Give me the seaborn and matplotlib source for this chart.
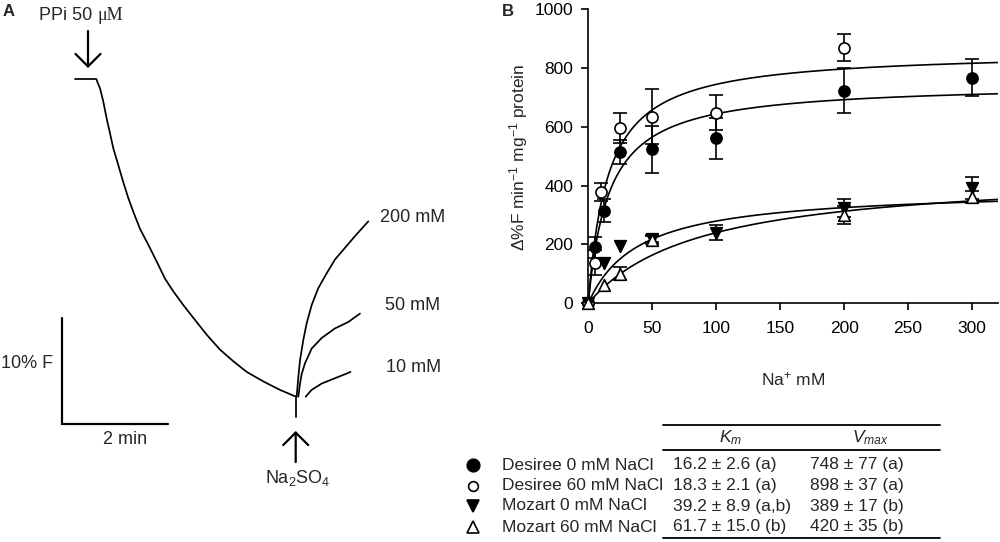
import numpy as np
import pandas as pd
import matplotlib
matplotlib.use('Agg')
import matplotlib.pyplot as plt
from matplotlib.lines import Line2D
import seaborn as sns

# ---------------- Panel A: fluorescence trace (time in s, F in %) ----------------
flat_t = [-24.3, 0.0]
flat_f = [100.0, 100.0]
decay_t = [0.0, 1.2, 4.0, 7.7, 11.5, 15.3, 19.0, 24.7, 30.3, 36.0, 41.7, 49.2, 58.6,
           68.2, 77.5, 86.9, 98.3, 109.6, 124.8, 139.8, 154.9, 170.0, 188.8, 207.7, 224.7]
decay_f = [100.0, 99.7, 99.15, 97.9, 96.3, 94.9, 93.5, 91.9, 90.3, 88.8, 87.5, 85.9, 84.4,
           82.8, 81.2, 80.0, 78.7, 77.5, 75.9, 74.5, 73.4, 72.4, 71.5, 70.7, 70.1]
spike_t = [225.5, 225.5]
spike_f = [70.1, 68.1]
rec200_t = [226.6, 228.5, 230.4, 234.1, 238.0, 243.6, 251.1, 260.6, 270.0, 281.3, 292.6, 307.7]
rec200_f = [70.06, 71.9, 73.5, 75.4, 77.0, 78.7, 80.3, 81.7, 83.0, 84.1, 85.2, 86.6]
rec50_t = [228.5, 230.4, 232.3, 236.0, 243.6, 255.0, 270.0, 285.0, 298.3]
rec50_f = [70.06, 71.3, 72.2, 73.2, 74.6, 75.6, 76.5, 77.1, 77.9]
rec10_t = [236.8, 243.6, 255.0, 270.0, 285.0, 287.5]
rec10_f = [70.06, 70.7, 71.3, 71.8, 72.3, 72.4]
trace_labels = ["200 mM", "50 mM", "10 mM"]

# ---------------- Panel B: kinetics ----------------
d0_x = [0, 5, 12.5, 25, 50, 100, 200, 300]
d0_y = [0, 190, 315, 515, 523, 560, 723, 766]
d0_e = [0, 35, 40, 40, 80, 69, 75, 63]
d60_x = [0, 5, 10, 25, 50, 100, 200]
d60_y = [0, 138, 379, 597, 634, 648, 869]
d60_e = [0, 42, 30, 51, 94, 60, 47]
m0_x = [0, 12.5, 25, 50, 100, 200, 300]
m0_y = [0, 136, 195, 220, 240, 323, 391]
m0_e = [0, 0, 0, 12, 25, 30, 37]
m60_x = [0, 12.5, 25, 50, 200, 300]
m60_y = [0, 62, 100, 215, 300, 362]
m60_e = [0, 0, 22, 15, 30, 20]
fit_vmax = [748, 857, 389, 449]
fit_km = [16.2, 15.2, 39.2, 87.0]

legend_labels = ["Desiree 0 mM NaCl", "Desiree 60 mM NaCl", "Mozart 0 mM NaCl", "Mozart 60 mM NaCl"]
km_text = ["16.2 \u00b1 2.6 (a)", "18.3 \u00b1 2.1 (a)", "39.2 \u00b1 8.9 (a,b)", "61.7 \u00b1 15.0 (b)"]
vmax_text = ["748 \u00b1 77 (a)", "898 \u00b1 37 (a)", "389 \u00b1 17 (b)", "420 \u00b1 35 (b)"]

sns.set_theme(style='ticks')
plt.rcParams['font.family'] = ['Liberation Sans', 'DejaVu Sans']
plt.rcParams['mathtext.fontset'] = 'custom'
plt.rcParams['mathtext.rm'] = 'Liberation Sans'
plt.rcParams['mathtext.it'] = 'Liberation Sans:italic'
plt.rcParams['mathtext.bf'] = 'Liberation Sans:bold'

W, H = 1000, 542
fig = plt.figure(figsize=(W / 100, H / 100), dpi=100)
fig.patch.set_facecolor('white')

# ---- Panel A axes: left half, data in seconds / %F ----
pxs = 0.8833   # px per second
pyf = 10.6     # px per %F
x0px, y0px = 96.5, 79.3
axa = fig.add_axes([0, 0, 0.5, 1])
axa.set_xlim((0 - x0px) / pxs, (500 - x0px) / pxs)
axa.set_ylim(100 - (H - y0px) / pyf, 100 + y0px / pyf)
axa.axis('off')

lw_tr = 1.25
for tt, ff in [(flat_t, flat_f), (decay_t, decay_f), (spike_t, spike_f),
               (rec200_t, rec200_f), (rec50_t, rec50_f), (rec10_t, rec10_f)]:
    df = pd.DataFrame({'t': tt, 'f': ff})
    sns.lineplot(data=df, x='t', y='f', ax=axa, color='black', lw=lw_tr,
                 sort=False, estimator=None)
# scale bars
sb_t0, sb_f0 = -39.0, 67.5
axa.plot([sb_t0, sb_t0, sb_t0 + 120], [sb_f0 + 10, sb_f0, sb_f0], color='black', lw=1.6,
         solid_joinstyle='miter')
axa.set_xlabel('')
axa.set_ylabel('')

# ---- Overlay in pixel coordinates for text ----
axo = fig.add_axes([0, 0, 1, 1], zorder=5)
axo.set_xlim(0, W)
axo.set_ylim(H, 0)
axo.axis('off')

fsA = 13
axo.text(9, 11, "A", fontsize=12, fontweight='bold', ha='center', va='center')
axo.text(508, 12, "B", fontsize=12, fontweight='bold', ha='center', va='center')
t1 = axo.text(39, 15, "PPi 50", fontsize=fsA, ha='left', va='center')
fig.canvas.draw()
bb = t1.get_window_extent()
axo.text(bb.x1 + 5, H - 15, "\u03bcM", fontsize=fsA, ha='left', va='center',
         family='Liberation Serif', transform=None)
arrow_kw = dict(arrowstyle='->,head_length=0.45,head_width=0.45', lw=1.6, color='black',
                mutation_scale=20, shrinkA=0, shrinkB=0)
axo.annotate('', xy=(88, 68), xytext=(88, 31), arrowprops=arrow_kw)
axo.annotate('', xy=(295.7, 431), xytext=(295.7, 462), arrowprops=arrow_kw)
axo.text(298, 478, "Na$_2$SO$_4$", fontsize=fsA, ha='center', va='center')
axo.text(53, 363, "10% F", fontsize=fsA, ha='right', va='center')
axo.text(125, 439, "2 min", fontsize=fsA, ha='center', va='center')
for lab, (lx, ly) in zip(trace_labels, [(413, 217), (413, 305), (414, 367)]):
    axo.text(lx, ly, lab, fontsize=fsA, ha='center', va='center')

# ---- Panel B ----
fsB = 12.5
axb = fig.add_axes([0.5883, 0.4404, 0.4093, 0.543])
xfit = np.linspace(0, 320, 400)
for vm, km in zip(fit_vmax, fit_km):
    sns.lineplot(x=xfit, y=vm * xfit / (km + xfit), ax=axb, color='black', lw=1.2)

series = [
    (d0_x, d0_y, d0_e, 'o', 'black', 64),
    (d60_x, d60_y, d60_e, 'o', 'white', 64),
    (m0_x, m0_y, m0_e, 'v', 'black', 70),
    (m60_x, m60_y, m60_e, '^', 'white', 70),
]
for i, (xs, ys, es, mk, fc, sz) in enumerate(series):
    xs_a, ys_a, es_a = np.array(xs), np.array(ys), np.array(es)
    m = es_a > 0
    axb.errorbar(xs_a[m], ys_a[m], yerr=es_a[m], fmt='none', ecolor='black',
                 elinewidth=1.2, capsize=4.7, capthick=1.2, zorder=3 + i * 0.1, clip_on=False)
    sns.scatterplot(x=xs, y=ys, ax=axb, marker=mk, s=sz, color=fc, edgecolor='black',
                    linewidth=1.2, zorder=4 + i * 0.1, clip_on=False, legend=False)

axb.set_xlim(0, 320)
axb.set_ylim(0, 1000)
axb.set_xticks([0, 50, 100, 150, 200, 250, 300])
axb.set_yticks([0, 200, 400, 600, 800, 1000])
axb.tick_params(direction='out', length=5, width=1.2, labelsize=fsB, colors='black')
axb.tick_params(axis='x', pad=8)
axb.tick_params(axis='y', pad=6)
for s in ['left', 'bottom']:
    axb.spines[s].set_linewidth(1.2)
    axb.spines[s].set_color('black')
sns.despine(ax=axb)
axb.set_xlabel('')
axb.set_ylabel('')
axo.text(519, 157, "\u0394%F min$^{-1}$ mg$^{-1}$ protein", fontsize=fsB, rotation=90,
         ha='center', va='center')
axo.text(793, 379, "Na$^{+}$ mM", fontsize=fsB, ha='center', va='center')

# ---- Table ----
for yy in [425, 449.5, 538]:
    axo.add_line(Line2D([663, 940], [yy, yy], color='black', lw=1.3))
axo.text(731, 438, "$K_m$", fontsize=fsB, ha='center', va='center')
axo.text(870, 438, "$V_{max}$", fontsize=fsB, ha='center', va='center')
row_y = [465, 485.5, 506, 527]
tab_markers = [('o', 'black', 9), ('o', 'white', 7), ('v', 'black', 9), ('^', 'white', 8)]
for yy, (mk, fc, ms), lab, k, v in zip(row_y, tab_markers, legend_labels, km_text, vmax_text):
    axo.plot([473], [yy], marker=mk, ms=ms, mfc=fc, mec='black', mew=1.2, ls='none')
    axo.text(502, yy, lab, fontsize=fsB, ha='left', va='center')
    axo.text(673, yy, k, fontsize=fsB, ha='left', va='center')
    axo.text(810, yy, v, fontsize=fsB, ha='left', va='center')

fig.savefig('out.png', dpi=100)
